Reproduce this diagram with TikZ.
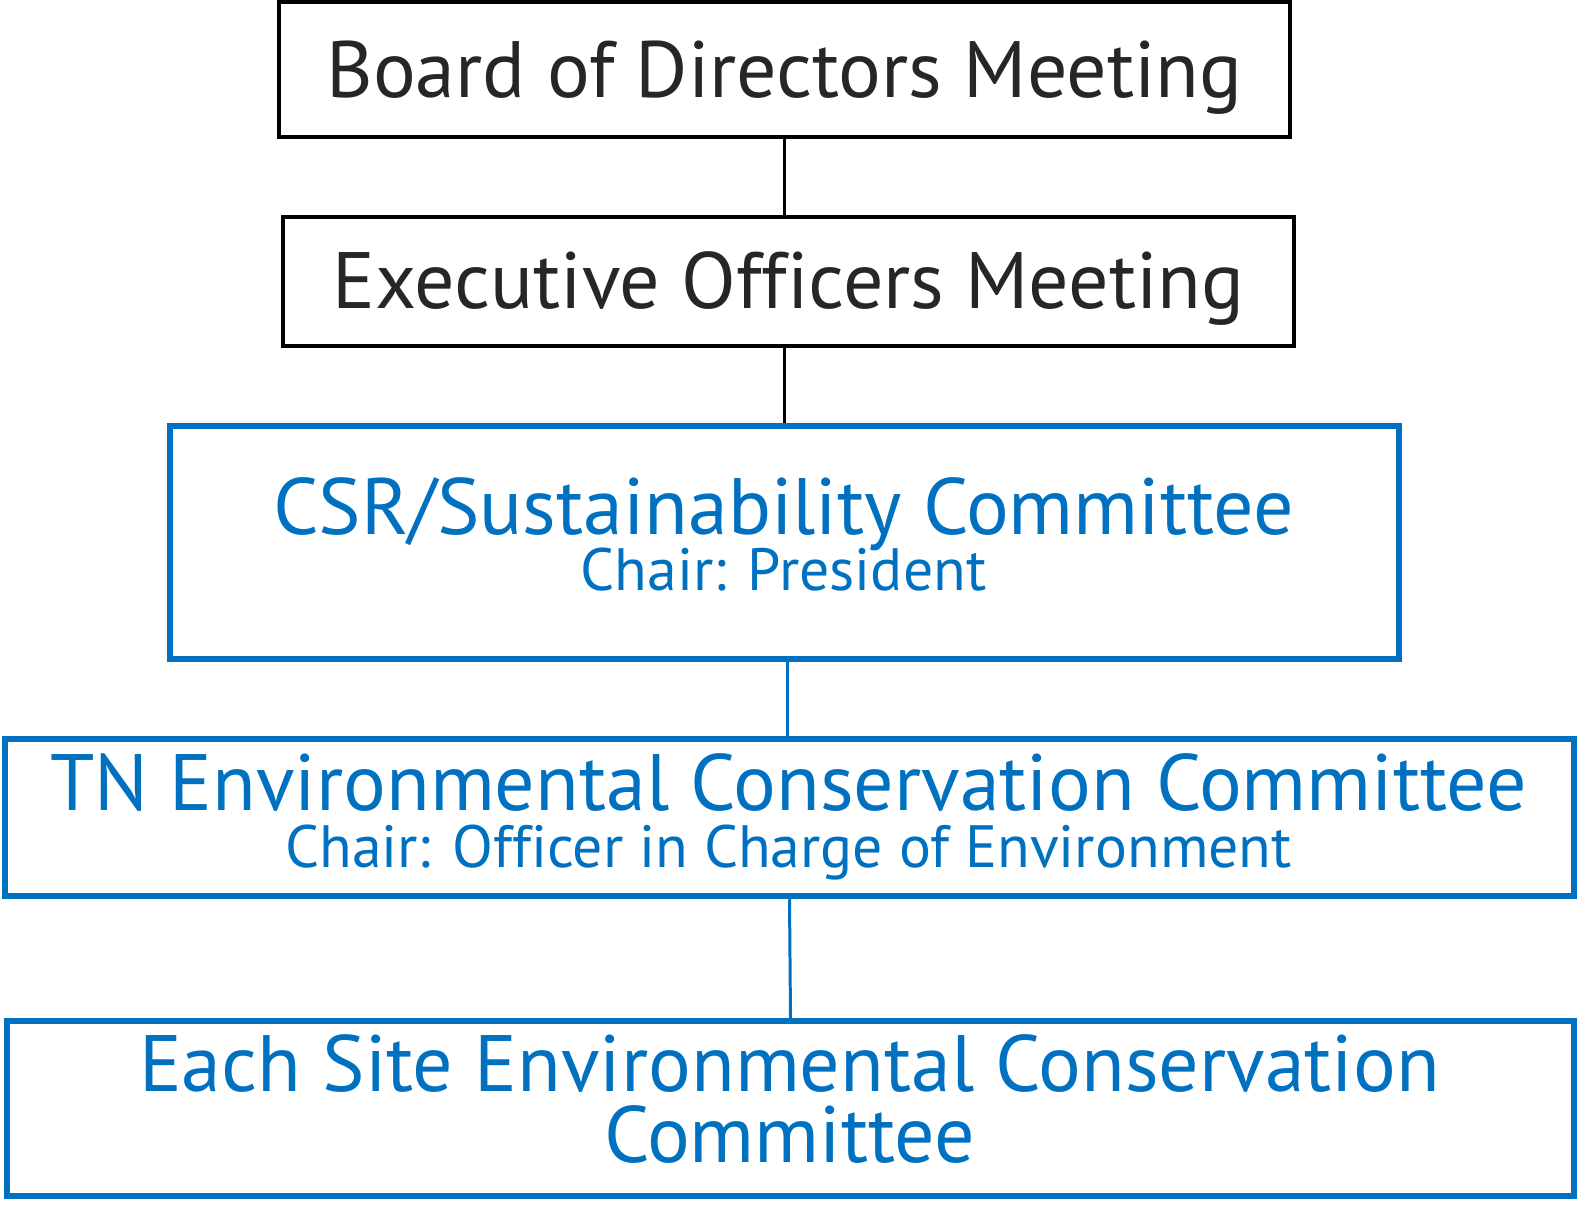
\documentclass[tikz,border=0pt]{standalone}
\usepackage{fontspec}
\setmainfont[Ligatures=NoCommon]{PT Sans}
\definecolor{csrblue}{HTML}{0070C0}
\definecolor{txtgray}{HTML}{262626}
\begin{document}
\begin{tikzpicture}[x=0.02cm,y=-0.02cm,
    blackbox/.style={draw=black,line width=2.45pt,inner sep=0pt},
    bluebox/.style={draw=csrblue,line width=3.7pt,inner sep=0pt},
    bigtext/.style={inner sep=0pt,anchor=base,font=\fontsize{45.5}{50}\selectfont},
    smalltext/.style={inner sep=0pt,anchor=base,font=\fontsize{34}{38}\selectfont},
    link/.style={line width=1.7pt}]
    \useasboundingbox (0,0) rectangle (1593,1224);
    % boxes
    \node[blackbox,minimum width=20.22cm,minimum height=2.7cm] (board) at (784.5,69.5) {};
    \node[blackbox,minimum width=20.22cm,minimum height=2.58cm] (exec) at (788.5,281.5) {};
    \node[bluebox,minimum width=24.58cm,minimum height=4.66cm] (csr) at (784.5,542.5) {};
    \node[bluebox,minimum width=31.38cm,minimum height=3.14cm] (tn) at (789.5,817.5) {};
    \node[bluebox,minimum width=31.34cm,minimum height=3.5cm] (site) at (790.5,1108.5) {};
    % texts
    \node[bigtext,txtgray] (boardtxt) at (784.5,97) {Board of Directors Meeting};
    \node[bigtext,txtgray] (exectxt) at (788.5,308) {Executive Officers Meeting};
    \node[bigtext,csrblue] (csrtxt) at (783.5,534) {CSR/Sustainability Committee};
    \node[smalltext,csrblue] (csrchair) at (783.5,590) {Chair: President};
    \node[bigtext,csrblue] (tntxt) at (788.5,810) {TN Environmental Conservation Committee};
    \node[smalltext,csrblue] (tnchair) at (788.5,867) {Chair: Officer in Charge of Environment};
    \node[bigtext,csrblue] (sitetxt) at (789.5,1091) {Each Site Environmental Conservation};
    \node[bigtext,csrblue] (sitetxtb) at (789.5,1162) {Committee};
    % links
    \draw[link,black] (board.south) -- (board.south |- exec.north);
    \draw[link,black] (csr.north |- exec.south) -- (csr.north);
    \draw[link,csrblue] ([xshift=0.06cm]csr.south) -- ([xshift=0.06cm]csr.south |- tn.north);
    \draw[link,csrblue] (tn.south) -- (site.north);
\end{tikzpicture}
\end{document}
